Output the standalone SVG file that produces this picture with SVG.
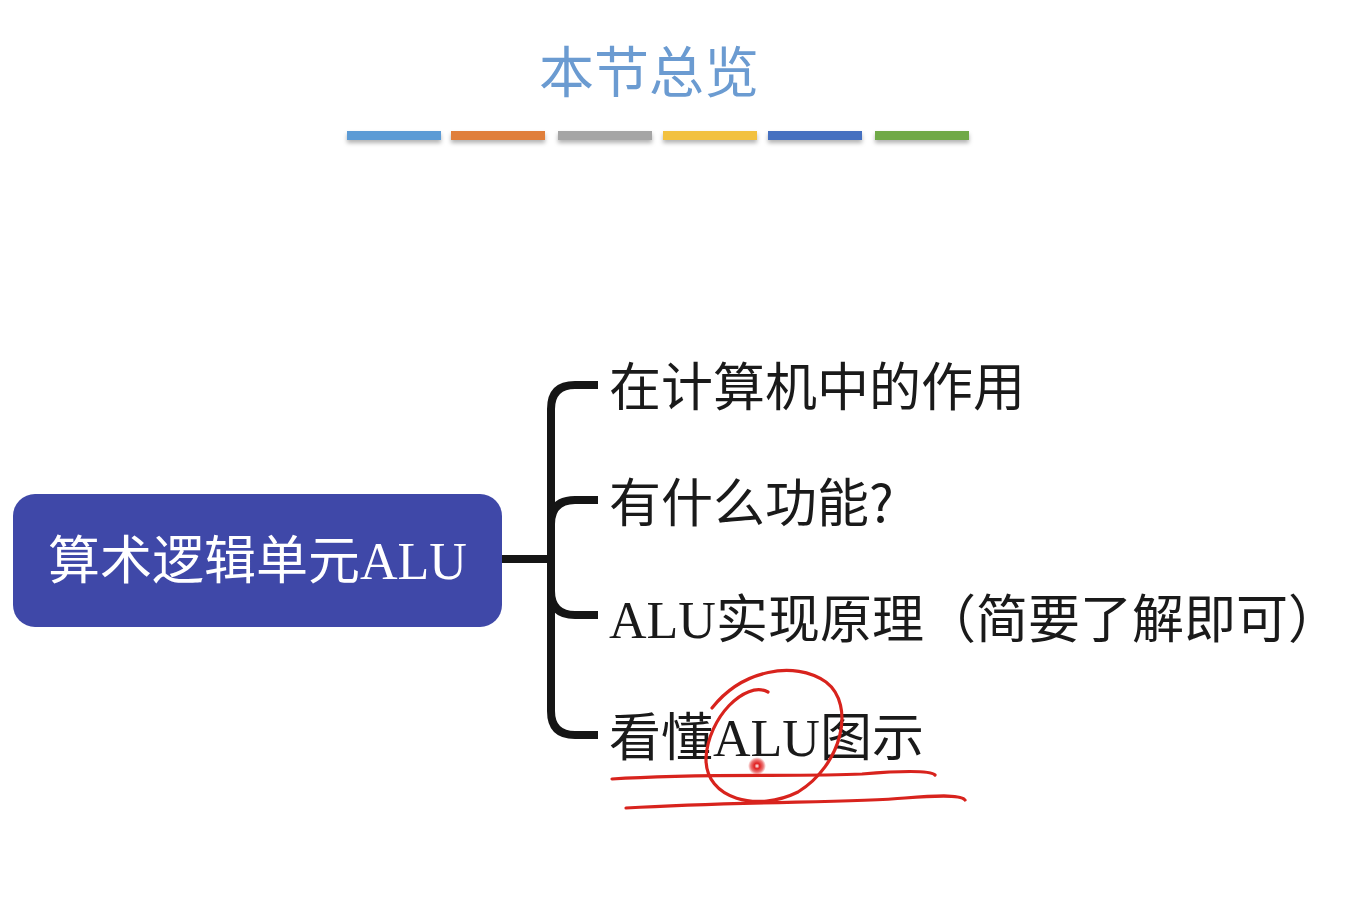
<svg xmlns="http://www.w3.org/2000/svg" width="1365" height="908" viewBox="0 0 1365 908">
<defs>
<style>
.cjk{font-family:"Noto Sans CJK SC","Liberation Sans",sans-serif;}
.lat{font-family:"Liberation Serif","Noto Sans CJK SC",serif;}
.item{font-size:52px;fill:#1a1a1a;}
.conn{fill:none;stroke:#151515;stroke-width:8;stroke-linecap:butt;stroke-linejoin:round;}
.ink{fill:none;stroke:#d8231d;stroke-width:3.2;stroke-linecap:round;}
</style>
<filter id="sh" x="-10%" y="-50%" width="120%" height="250%">
<feDropShadow dx="0" dy="3" stdDeviation="2" flood-color="#000" flood-opacity="0.3"/>
</filter>
<radialGradient id="dot">
<stop offset="0" stop-color="#fff"/>
<stop offset="0.3" stop-color="#e02020"/>
<stop offset="0.7" stop-color="#e02020" stop-opacity="0.6"/>
<stop offset="1" stop-color="#e02020" stop-opacity="0"/>
</radialGradient>
</defs>
<rect width="1365" height="908" fill="#ffffff"/>

<g id="title">
<text x="649" y="92" text-anchor="middle" class="cjk" font-size="55" fill="#6b9bd1">本节总览</text>
</g>
<g id="bars" filter="url(#sh)">
<rect x="347" y="131" width="94" height="9" fill="#5b9bd5"/>
<rect x="451" y="131" width="94" height="9" fill="#e07f3a"/>
<rect x="558" y="131" width="94" height="9" fill="#a5a5a5"/>
<rect x="663" y="131" width="94" height="9" fill="#f2c140"/>
<rect x="768" y="131" width="94" height="9" fill="#4470c0"/>
<rect x="875" y="131" width="94" height="9" fill="#70a946"/>
</g>

<g id="connectors">
<path class="conn" d="M502,559 H551"/>
<path class="conn" d="M598,385 H575 Q551,385 551,409 V711 Q551,735 575,735 H598"/>
<path class="conn" d="M598,500 H575 Q551,500 551,524"/>
<path class="conn" d="M598,615 H575 Q551,615 551,591"/>
</g>

<g id="root">
<rect x="13" y="494" width="489" height="133" rx="22" fill="#3f48a8"/>
<text x="48" y="579" font-size="52" fill="#ffffff"><tspan class="cjk">算术逻辑单元</tspan><tspan class="lat">ALU</tspan></text>
</g>

<g id="n1"><text x="609" y="406" class="cjk item">在计算机中的作用</text></g>
<g id="n2"><text x="609" y="522" class="cjk item">有什么功能?</text></g>
<g id="n3"><text x="609" y="638" class="item"><tspan class="lat">ALU</tspan><tspan class="cjk">实现原理（简要了解即可）</tspan></text></g>
<g id="n4"><text x="609" y="756" class="item"><tspan class="cjk">看懂</tspan><tspan class="lat">ALU</tspan><tspan class="cjk">图示</tspan></text></g>

<g id="annotation">
<path class="ink" d="M768,692 C745,680 708,718 706,758 C705,800 758,812 798,792 C842,765 856,705 826,682 C794,660 742,670 712,708"/>
<path class="ink" d="M612,779 C700,773 800,777 862,774 C900,771 930,770 935,775"/>
<path class="ink" d="M626,808 C750,801 850,803 905,798 C942,795 962,795 965,800"/>
<circle cx="757" cy="766" r="9" fill="url(#dot)"/>
</g>
</svg>
